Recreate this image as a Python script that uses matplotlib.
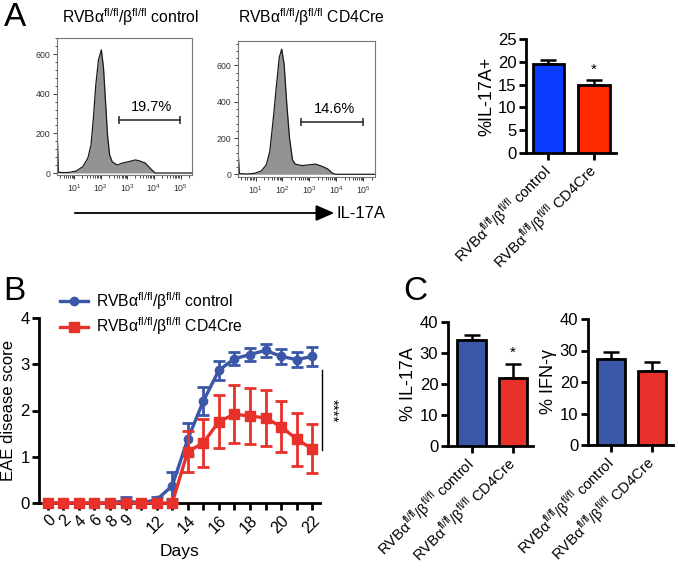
import numpy as np
import matplotlib.pyplot as plt
from matplotlib.lines import Line2D
from matplotlib.patches import FancyArrowPatch
from matplotlib.ticker import MultipleLocator, AutoMinorLocator, LogLocator, NullFormatter

plt.rcParams['font.family'] = ['Liberation Sans', 'DejaVu Sans']
plt.rcParams['mathtext.fontset'] = 'custom'
plt.rcParams['mathtext.rm'] = 'Liberation Sans'

# ---- data ----
# A: flow histograms (log10 IL-17A, count)
hist_ctrl_x = [0.36, 0.36, 0.40, 0.6, 0.81, 1.07, 1.32, 1.51, 1.63, 1.72, 1.81, 1.91, 2.02,
               2.1, 2.19, 2.25, 2.33, 2.43, 2.62, 2.8, 3.04, 3.3, 3.48, 3.67, 3.85, 4.04, 5.43]
hist_ctrl_y = [0, 200, 4, 2, 3, 10, 32, 75, 141, 277, 444, 570, 621,
               530, 328, 192, 91, 56, 40, 50, 57, 66, 60, 50, 25, 0, 0]
hist_cre_x = [0.36, 0.36, 0.40, 0.6, 0.7, 0.96, 1.21, 1.4, 1.53, 1.65, 1.78, 1.88, 1.97,
              2.06, 2.16, 2.26, 2.37, 2.47, 2.72, 2.97, 3.23, 3.48, 3.67, 3.86, 3.98, 5.43]
hist_cre_y = [0, 110, 4, 2, 2, 5, 18, 52, 127, 294, 496, 644, 690,
              607, 385, 200, 80, 56, 48, 52, 56, 43, 30, 5, 0, 0]
gate_ctrl = (2.68, 4.96, 268)
gate_cre = (2.7, 4.99, 289)
gate_labels = ['19.7%', '14.6%']

group_labels = [r'RVBα$^{\mathregular{fl/fl}}$/β$^{\mathregular{fl/fl}}$ control',
                r'RVBα$^{\mathregular{fl/fl}}$/β$^{\mathregular{fl/fl}}$ CD4Cre']
il17_pct = [19.6, 14.9]
il17_sem = [0.9, 1.0]

# B: EAE score
days = [0, 2, 4, 6, 8, 9, 10, 12, 13, 14, 15, 16, 17, 18, 19, 20, 21, 22]
day_labels = ['0', '2', '4', '6', '8', '9', '', '12', '', '14', '', '16', '', '18', '', '20', '', '22']
score_ctrl = [0, 0, 0, 0, 0, 0.05, 0, 0.07, 0.37, 1.38, 2.2, 2.87, 3.12, 3.21, 3.3, 3.17, 3.1, 3.17]
err_ctrl = [0, 0, 0, 0, 0, 0.07, 0, 0.05, 0.29, 0.35, 0.3, 0.21, 0.14, 0.14, 0.14, 0.16, 0.16, 0.21]
score_cre = [0, 0, 0, 0, 0, 0, 0, 0, 0, 1.11, 1.3, 1.76, 1.92, 1.88, 1.84, 1.65, 1.38, 1.17]
err_cre = [0, 0, 0, 0, 0, 0, 0, 0, 0, 0.44, 0.52, 0.58, 0.63, 0.61, 0.6, 0.55, 0.57, 0.53]

# C: restimulated cells
c_il17 = [34.1, 22.0]
c_il17_err = [1.8, 4.6]
c_ifng = [27.4, 23.5]
c_ifng_err = [2.0, 2.7]

blue_a, red_a = '#0a3cff', '#ff2a00'
blue, red = '#3b57a7', '#e8312a'

W, H = 678, 569
fig = plt.figure(figsize=(W / 100, H / 100), dpi=100)


def box(l, t, r, b):
    return [l / W, 1 - b / H, (r - l) / W, (b - t) / H]


def flow_hist(rect, xs, ys, gate, label, ymax, ylo):
    ax = fig.add_axes(rect)
    x = 10 ** np.array(xs)
    ax.fill_between(x, ys, color='#939393', lw=0)
    ax.plot(x, ys, color='#1a1a1a', lw=0.9)
    ax.set_xscale('log')
    ax.set_xlim(10 ** 0.35, 10 ** 5.43)
    ax.set_ylim(ylo, ymax)
    ax.xaxis.set_major_locator(LogLocator(base=10, numticks=10))
    ax.xaxis.set_minor_locator(LogLocator(base=10, subs=np.arange(2, 10), numticks=20))
    ax.xaxis.set_minor_formatter(NullFormatter())
    ax.yaxis.set_major_locator(MultipleLocator(200))
    ax.yaxis.set_minor_locator(AutoMinorLocator(5))
    ax.tick_params(labelsize=6.3, colors='#333333', length=3, width=0.7, pad=2)
    ax.tick_params(which='minor', length=1.8, width=0.5)
    for s in ax.spines.values():
        s.set_color('#777777')
        s.set_linewidth(0.8)
    ax.plot([10 ** gate[0], 10 ** gate[1]], [gate[2], gate[2]], color='#333333', lw=1.2,
            marker='|', ms=6, mew=1.2)
    ax.annotate(label, (10 ** ((gate[0] + gate[1]) / 2 + 0.08), gate[2]), xytext=(0, 4),
                textcoords='offset points', ha='center', va='bottom', fontsize=10.5)
    return ax


def prism(ax, lw=2.0):
    for s in ['top', 'right']:
        ax.spines[s].set_visible(False)
    for s in ['left', 'bottom']:
        ax.spines[s].set_linewidth(lw)
    ax.tick_params(width=lw, length=5, labelsize=12, pad=2)


def bar_panel(rect, vals, errs, colors, ylabel, ymax, step, star, xlim):
    ax = fig.add_axes(rect)
    pos = np.arange(len(vals))
    ax.bar(pos, vals, width=0.69, color=colors, edgecolor='black', lw=2.0, zorder=3)
    ax.errorbar(pos, vals, yerr=[[0] * len(vals), errs], fmt='none', ecolor='black',
                elinewidth=1.8, capsize=5.5, capthick=1.8, zorder=2)
    if star:
        ax.text(1, vals[1] + errs[1] + ymax * 0.03, '*', ha='center', va='bottom', fontsize=11)
    ax.set_ylim(0, ymax)
    ax.set_xlim(*xlim)
    ax.yaxis.set_major_locator(MultipleLocator(step))
    prism(ax)
    ax.set_xticks(pos)
    ax.set_xticklabels(group_labels, rotation=45, ha='right', va='center',
                       rotation_mode='anchor', fontsize=10.6)
    ax.tick_params(axis='x', pad=6)
    ax.set_ylabel(ylabel, fontsize=13, labelpad=2)
    return ax


# ---- panel A ----
fig.text(4 / W, 1 - 18 / H, 'A', fontsize=24, va='center', ha='left')
flow_hist(box(57, 38, 192, 175), hist_ctrl_x, hist_ctrl_y, gate_ctrl, gate_labels[0], 681, -10)
flow_hist(box(238, 41, 375, 177), hist_cre_x, hist_cre_y, gate_cre, gate_labels[1], 735, -15)
fig.text(130 / W, 1 - 17 / H, group_labels[0], fontsize=11.3, ha='center', va='center')
fig.text(311 / W, 1 - 17 / H, group_labels[1], fontsize=11.3, ha='center', va='center')
fig.patches.append(FancyArrowPatch(
    (72 / W, 1 - 213 / H), (337 / W, 1 - 213 / H), transform=fig.transFigure,
    arrowstyle='-|>,head_length=0.8,head_width=0.35', mutation_scale=14, color='black', lw=1.3))
fig.text(337 / W, 1 - 213 / H, 'IL-17A', fontsize=12, va='center', ha='left')

bar_panel(box(526, 39, 616, 153), il17_pct, il17_sem, [blue_a, red_a], '%IL-17A+', 25, 5,
          True, (-0.49, 1.48))

# ---- panel B ----
fig.text(3 / W, 1 - 291 / H, 'B', fontsize=24, va='center', ha='left')
axb = fig.add_axes(box(39.3, 318, 320, 503))
idx = np.arange(len(days))
axb.errorbar(idx, score_ctrl, yerr=err_ctrl, color=blue, lw=2.4, marker='o', ms=6,
             capsize=4, elinewidth=2, capthick=2, clip_on=False, zorder=3)
axb.errorbar(idx, score_cre, yerr=err_cre, color=red, lw=2.4, marker='s', ms=6.5,
             capsize=4, elinewidth=2, capthick=2, clip_on=False, zorder=4)
axb.set_ylim(0, 4)
axb.set_xlim(-0.54, 17.5)
axb.yaxis.set_major_locator(MultipleLocator(1))
prism(axb)
axb.set_xticks(idx)
axb.set_xticklabels(day_labels, rotation=45, ha='right', rotation_mode='anchor', fontsize=11.5)
axb.set_xlabel('Days', fontsize=12.5, labelpad=6)
axb.set_ylabel('EAE disease score', fontsize=12, labelpad=3)
axb.plot([17.6, 17.6], [1.15, 2.87], color='black', lw=1, clip_on=False)
axb.text(18.3, 2.0, '****', rotation=270, ha='center', va='center', fontsize=11)
handles = [Line2D([], [], color=blue, lw=2.4, marker='o', ms=6),
           Line2D([], [], color=red, lw=2.4, marker='s', ms=6.5)]
axb.legend(handles, group_labels, loc='upper left', bbox_to_anchor=(60 / W, 1 - 290 / H),
           bbox_transform=fig.transFigure, frameon=False, fontsize=11.3, handlelength=1.8,
           handletextpad=0.5, labelspacing=0.25, borderpad=0, borderaxespad=0)

# ---- panel C ----
fig.text(403 / W, 1 - 291 / H, 'C', fontsize=24, va='center', ha='left')
bar_panel(box(448, 322, 533, 446), c_il17, c_il17_err, [blue, red], '% IL-17A', 40, 10,
          True, (-0.57, 1.48))
bar_panel(box(588, 319, 673, 445), c_ifng, c_ifng_err, [blue, red], '% IFN-γ', 40, 10,
          False, (-0.56, 1.51))

fig.savefig('out.png', dpi=100)
